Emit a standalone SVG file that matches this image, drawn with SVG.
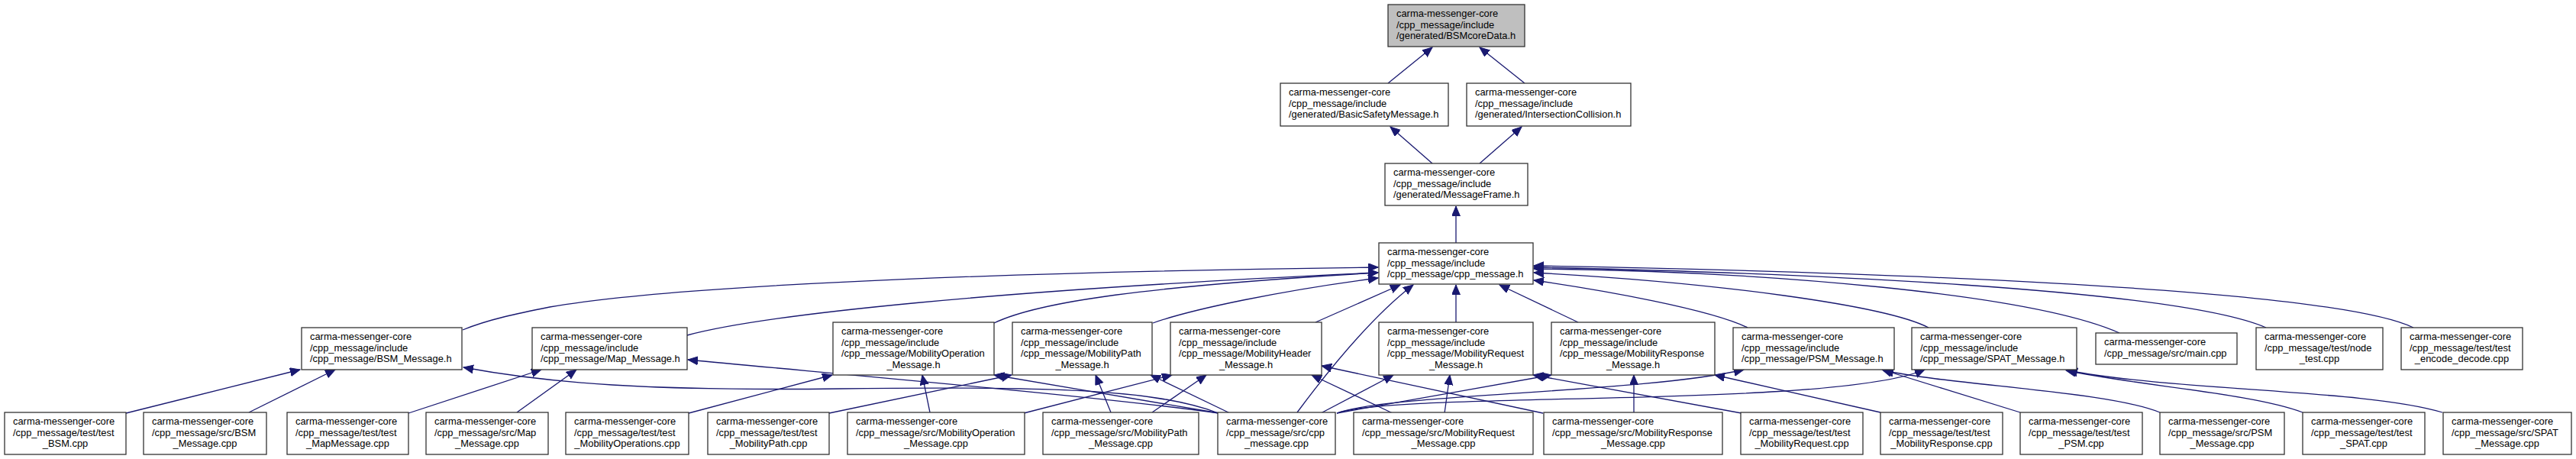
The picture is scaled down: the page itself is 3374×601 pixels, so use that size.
<svg xmlns="http://www.w3.org/2000/svg" width="3374" height="601" viewBox="0 0 3374 601">
<style>
.n rect{fill:#fff;stroke:#333;stroke-width:1.3}
.root rect{fill:#bfbfbf}
.n text{font-family:"Liberation Sans",Arial,Helvetica,sans-serif;font-size:12.9px;fill:#000}
.n text.c{text-anchor:middle}
.e path{fill:none;stroke:#191970;stroke-width:1.3;marker-end:url(#a)}
</style>
<defs>
<marker id="a" markerUnits="userSpaceOnUse" markerWidth="14" markerHeight="12" refX="13" refY="5.5" orient="auto"><path d="M0,0L13,5.5L0,11z" fill="#191970" stroke="#191970" stroke-width="1"/></marker>
</defs>
<rect width="3374" height="601" fill="#fff"/>
<g class="e" id="edges">
<path d="M1818,109 L1876,62"/>
<path d="M1997,109 L1938,62"/>
<path d="M1876,214 L1821,166"/>
<path d="M1938,214 L1993,166"/>
<path d="M1907,318 L1907,270"/>
<path d="M606,432 C640,418 680,410 720,402 C900,370 1400,355 1805,350"/>
<path d="M900,439 C1000,412 1300,380 1805,357"/>
<path d="M1302,423 C1360,395 1500,375 1805,357"/>
<path d="M1510,423 C1560,405 1680,380 1805,364"/>
<path d="M1723,422 L1834,373"/>
<path d="M1699,540 C1725,505 1790,420 1851,373"/>
<path d="M1907,422 L1907,373"/>
<path d="M2067,422 L1964,373"/>
<path d="M2289,429 C2240,405 2100,380 2009,367"/>
<path d="M2526,429 C2470,400 2250,370 2009,357"/>
<path d="M2776,436 C2661,385 2315,355 2009,352"/>
<path d="M2968,429 C2850,378 2350,357 2009,350"/>
<path d="M3161,429 C3050,375 2400,355 2009,348"/>
<path d="M165,541 L393,484"/>
<path d="M326,540 L439,484"/>
<path d="M535,541 L709,484"/>
<path d="M677,540 L755,484"/>
<path d="M902,541 L1090,491"/>
<path d="M1086,541 L1325,491"/>
<path d="M1218,540 L1208,491"/>
<path d="M1341,541 L1535,491"/>
<path d="M1455,540 L1435,491"/>
<path d="M1509,540 L1580,491"/>
<path d="M1596,541 C1520,512 1400,505 1100,509 C850,512 720,502 607,481"/>
<path d="M1596,541 C1450,520 1100,490 901,471"/>
<path d="M1597,541 L1302,491"/>
<path d="M1611,541 L1507,491"/>
<path d="M1730,541 L1825,491"/>
<path d="M1751,541 L2032,491"/>
<path d="M1751,541 C1820,515 2150,515 2284,484"/>
<path d="M1751,541 C1830,512 2400,535 2521,484"/>
<path d="M1824,541 L1718,491"/>
<path d="M1892,541 L1899,491"/>
<path d="M2021,541 L1731,479"/>
<path d="M2140,540 L2140,491"/>
<path d="M2281,541 L2008,491"/>
<path d="M2463,540 L2246,491"/>
<path d="M2646,540 L2465,484"/>
<path d="M2829,540 C2760,512 2560,505 2467,485"/>
<path d="M3016,540 C2950,515 2800,505 2706,485"/>
<path d="M3199,540 C3100,510 2850,512 2708,485"/>
</g>
<g class="n root" id="n_bsmcoredata"><rect x="1818" y="6" width="179" height="55"/><text x="1829" y="22.3">carma-messenger-core</text><text x="1829" y="36.8">/cpp_message/include</text><text x="1829" y="51.3">/generated/BSMcoreData.h</text></g>
<g class="n" id="n_basicsafety"><rect x="1677" y="109" width="220" height="56"/><text x="1688" y="125.3">carma-messenger-core</text><text x="1688" y="139.8">/cpp_message/include</text><text x="1688" y="154.3">/generated/BasicSafetyMessage.h</text></g>
<g class="n" id="n_intersection"><rect x="1921" y="109" width="215" height="56"/><text x="1932" y="125.3">carma-messenger-core</text><text x="1932" y="139.8">/cpp_message/include</text><text x="1932" y="154.3">/generated/IntersectionCollision.h</text></g>
<g class="n" id="n_messageframe"><rect x="1814" y="214" width="187" height="55"/><text x="1825" y="230.3">carma-messenger-core</text><text x="1825" y="244.8">/cpp_message/include</text><text x="1825" y="259.3">/generated/MessageFrame.h</text></g>
<g class="n" id="n_cpp_message_h"><rect x="1806" y="318" width="202" height="54"/><text x="1817" y="334.3">carma-messenger-core</text><text x="1817" y="348.8">/cpp_message/include</text><text x="1817" y="363.3">/cpp_message/cpp_message.h</text></g>
<g class="n" id="n_bsm_h"><rect x="395" y="429" width="210" height="55"/><text x="406" y="445.3">carma-messenger-core</text><text x="406" y="459.8">/cpp_message/include</text><text x="406" y="474.3">/cpp_message/BSM_Message.h</text></g>
<g class="n" id="n_map_h"><rect x="697" y="429" width="203" height="55"/><text x="708" y="445.3">carma-messenger-core</text><text x="708" y="459.8">/cpp_message/include</text><text x="708" y="474.3">/cpp_message/Map_Message.h</text></g>
<g class="n" id="n_mobop_h"><rect x="1091" y="422" width="211" height="69"/><text x="1102" y="438.3">carma-messenger-core</text><text x="1102" y="452.8">/cpp_message/include</text><text x="1102" y="467.3">/cpp_message/MobilityOperation</text><text class="c" x="1196.5" y="481.8">_Message.h</text></g>
<g class="n" id="n_mobpath_h"><rect x="1326" y="422" width="183" height="69"/><text x="1337" y="438.3">carma-messenger-core</text><text x="1337" y="452.8">/cpp_message/include</text><text x="1337" y="467.3">/cpp_message/MobilityPath</text><text class="c" x="1417.5" y="481.8">_Message.h</text></g>
<g class="n" id="n_mobheader_h"><rect x="1533" y="422" width="198" height="69"/><text x="1544" y="438.3">carma-messenger-core</text><text x="1544" y="452.8">/cpp_message/include</text><text x="1544" y="467.3">/cpp_message/MobilityHeader</text><text class="c" x="1632" y="481.8">_Message.h</text></g>
<g class="n" id="n_mobreq_h"><rect x="1806" y="422" width="202" height="69"/><text x="1817" y="438.3">carma-messenger-core</text><text x="1817" y="452.8">/cpp_message/include</text><text x="1817" y="467.3">/cpp_message/MobilityRequest</text><text class="c" x="1907" y="481.8">_Message.h</text></g>
<g class="n" id="n_mobresp_h"><rect x="2032" y="422" width="214" height="69"/><text x="2043" y="438.3">carma-messenger-core</text><text x="2043" y="452.8">/cpp_message/include</text><text x="2043" y="467.3">/cpp_message/MobilityResponse</text><text class="c" x="2139" y="481.8">_Message.h</text></g>
<g class="n" id="n_psm_h"><rect x="2270" y="429" width="211" height="55"/><text x="2281" y="445.3">carma-messenger-core</text><text x="2281" y="459.8">/cpp_message/include</text><text x="2281" y="474.3">/cpp_message/PSM_Message.h</text></g>
<g class="n" id="n_spat_h"><rect x="2504" y="429" width="216" height="55"/><text x="2515" y="445.3">carma-messenger-core</text><text x="2515" y="459.8">/cpp_message/include</text><text x="2515" y="474.3">/cpp_message/SPAT_Message.h</text></g>
<g class="n" id="n_main"><rect x="2745" y="436" width="185" height="41"/><text x="2756" y="452.3">carma-messenger-core</text><text x="2756" y="466.8">/cpp_message/src/main.cpp</text></g>
<g class="n" id="n_node_test"><rect x="2955" y="429" width="166" height="55"/><text x="2966" y="445.3">carma-messenger-core</text><text x="2966" y="459.8">/cpp_message/test/node</text><text class="c" x="3038" y="474.3">_test.cpp</text></g>
<g class="n" id="n_encode_decode"><rect x="3145" y="429" width="159" height="55"/><text x="3156" y="445.3">carma-messenger-core</text><text x="3156" y="459.8">/cpp_message/test/test</text><text class="c" x="3224.5" y="474.3">_encode_decode.cpp</text></g>
<g class="n" id="n_test_bsm"><rect x="6" y="540" width="159" height="55"/><text x="17" y="556.3">carma-messenger-core</text><text x="17" y="570.8">/cpp_message/test/test</text><text class="c" x="85.5" y="585.3">_BSM.cpp</text></g>
<g class="n" id="n_src_bsm"><rect x="188" y="540" width="161" height="55"/><text x="199" y="556.3">carma-messenger-core</text><text x="199" y="570.8">/cpp_message/src/BSM</text><text class="c" x="268.5" y="585.3">_Message.cpp</text></g>
<g class="n" id="n_test_map"><rect x="376" y="540" width="159" height="55"/><text x="387" y="556.3">carma-messenger-core</text><text x="387" y="570.8">/cpp_message/test/test</text><text class="c" x="455.5" y="585.3">_MapMessage.cpp</text></g>
<g class="n" id="n_src_map"><rect x="558" y="540" width="160" height="55"/><text x="569" y="556.3">carma-messenger-core</text><text x="569" y="570.8">/cpp_message/src/Map</text><text class="c" x="638" y="585.3">_Message.cpp</text></g>
<g class="n" id="n_test_mobops"><rect x="741" y="540" width="161" height="55"/><text x="752" y="556.3">carma-messenger-core</text><text x="752" y="570.8">/cpp_message/test/test</text><text class="c" x="821.5" y="585.3">_MobilityOperations.cpp</text></g>
<g class="n" id="n_test_mobpath"><rect x="927" y="540" width="159" height="55"/><text x="938" y="556.3">carma-messenger-core</text><text x="938" y="570.8">/cpp_message/test/test</text><text class="c" x="1006.5" y="585.3">_MobilityPath.cpp</text></g>
<g class="n" id="n_src_mobop"><rect x="1110" y="540" width="232" height="55"/><text x="1121" y="556.3">carma-messenger-core</text><text x="1121" y="570.8">/cpp_message/src/MobilityOperation</text><text class="c" x="1226" y="585.3">_Message.cpp</text></g>
<g class="n" id="n_src_mobpath"><rect x="1366" y="540" width="204" height="55"/><text x="1377" y="556.3">carma-messenger-core</text><text x="1377" y="570.8">/cpp_message/src/MobilityPath</text><text class="c" x="1468" y="585.3">_Message.cpp</text></g>
<g class="n" id="n_cpp_message_cpp"><rect x="1595" y="540" width="154" height="55"/><text x="1606" y="556.3">carma-messenger-core</text><text x="1606" y="570.8">/cpp_message/src/cpp</text><text class="c" x="1672" y="585.3">_message.cpp</text></g>
<g class="n" id="n_src_mobreq"><rect x="1773" y="540" width="235" height="55"/><text x="1784" y="556.3">carma-messenger-core</text><text x="1784" y="570.8">/cpp_message/src/MobilityRequest</text><text class="c" x="1890.5" y="585.3">_Message.cpp</text></g>
<g class="n" id="n_src_mobresp"><rect x="2022" y="540" width="234" height="55"/><text x="2033" y="556.3">carma-messenger-core</text><text x="2033" y="570.8">/cpp_message/src/MobilityResponse</text><text class="c" x="2139" y="585.3">_Message.cpp</text></g>
<g class="n" id="n_test_mobreq"><rect x="2280" y="540" width="160" height="55"/><text x="2291" y="556.3">carma-messenger-core</text><text x="2291" y="570.8">/cpp_message/test/test</text><text class="c" x="2360" y="585.3">_MobilityRequest.cpp</text></g>
<g class="n" id="n_test_mobresp"><rect x="2463" y="540" width="160" height="55"/><text x="2474" y="556.3">carma-messenger-core</text><text x="2474" y="570.8">/cpp_message/test/test</text><text class="c" x="2543" y="585.3">_MobilityResponse.cpp</text></g>
<g class="n" id="n_test_psm"><rect x="2646" y="540" width="160" height="55"/><text x="2657" y="556.3">carma-messenger-core</text><text x="2657" y="570.8">/cpp_message/test/test</text><text class="c" x="2726" y="585.3">_PSM.cpp</text></g>
<g class="n" id="n_src_psm"><rect x="2829" y="540" width="163" height="55"/><text x="2840" y="556.3">carma-messenger-core</text><text x="2840" y="570.8">/cpp_message/src/PSM</text><text class="c" x="2910.5" y="585.3">_Message.cpp</text></g>
<g class="n" id="n_test_spat"><rect x="3016" y="540" width="160" height="55"/><text x="3027" y="556.3">carma-messenger-core</text><text x="3027" y="570.8">/cpp_message/test/test</text><text class="c" x="3096" y="585.3">_SPAT.cpp</text></g>
<g class="n" id="n_src_spat"><rect x="3200" y="540" width="168" height="55"/><text x="3211" y="556.3">carma-messenger-core</text><text x="3211" y="570.8">/cpp_message/src/SPAT</text><text class="c" x="3284" y="585.3">_Message.cpp</text></g>
</svg>
